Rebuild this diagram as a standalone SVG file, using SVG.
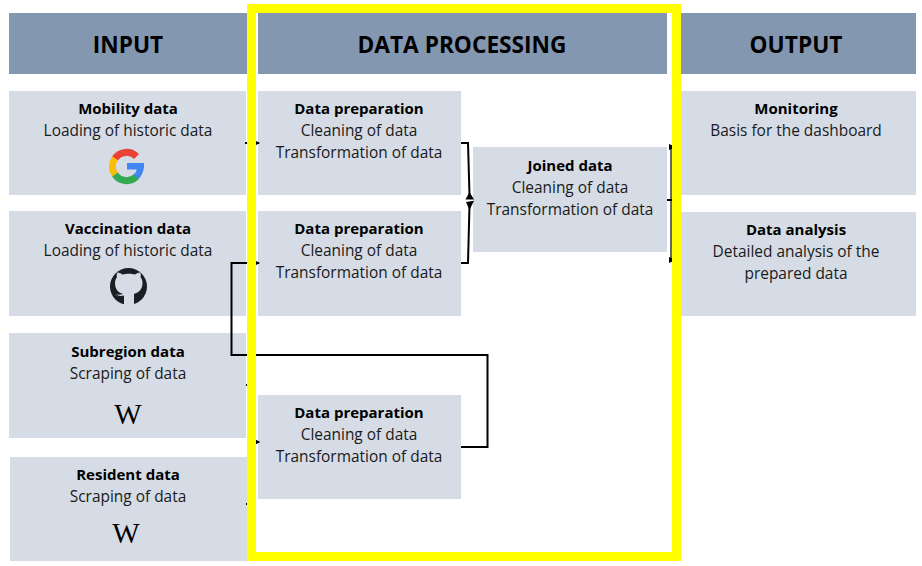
<svg xmlns="http://www.w3.org/2000/svg" width="922" height="566" viewBox="0 0 922 566">
<style>
text{font-family:"Open Sans","Noto Sans","Liberation Sans",sans-serif;font-size:15.450px;fill:#1a1a1a;text-anchor:middle}
.t{font-weight:700;font-size:15px;fill:#000}
.h{font-weight:700;font-size:22.700px;fill:#000}
.hb{fill:#8497b0}
.b{fill:#d6dce5}
.c{fill:none;stroke:#000;stroke-width:2}
.k{fill:#000}
.w{font-family:"Liberation Serif",serif;font-size:29px;fill:#000}
.g{fill:none;stroke-width:7}
</style>
<defs><marker id="a" markerWidth="7" markerHeight="8" refX="6" refY="4" orient="auto" markerUnits="userSpaceOnUse"><path d="M0 0.500L7 4L0 7.500Z" fill="#000"/></marker></defs>
<rect width="922" height="566" fill="#fff"/>
<g id="header-input"><rect class="hb" x="9" y="13" width="238" height="61"/><text class="h" x="128" y="53">INPUT</text></g>
<g id="header-processing"><rect class="hb" x="258" y="13" width="409" height="61"/><text class="h" x="462" y="53">DATA PROCESSING</text></g>
<g id="header-output"><rect class="hb" x="681" y="13" width="235" height="61"/><text class="h" x="796" y="53">OUTPUT</text></g>
<g id="mobility"><rect class="b" x="9" y="91" width="237" height="104"/><text class="t" x="128" y="114">Mobility data</text><text x="128" y="136">Loading of historic data</text>
<g id="google-logo"><path class="g" stroke="#ea4335" d="M136.500 156.500A14 14 0 0 0 115 158.500"/><path class="g" stroke="#fbbc05" d="M115 158.500A14 14 0 0 0 115 174.500"/><path class="g" stroke="#34a853" d="M115 174.500A14 14 0 0 0 136.500 176.500"/><path fill="#4285f4" d="M127 163H144C144.500 169 142.500 175 138.500 179L133.500 174.500C135 173.500 136.300 171.500 136.800 169.500H127Z"/></g></g>
<g id="vaccination"><rect class="b" x="9" y="211" width="237" height="105"/><text class="t" x="128" y="234">Vaccination data</text><text x="128" y="256">Loading of historic data</text>
<g id="github-logo"><circle cx="128.500" cy="286.500" r="18.500" fill="#1b1f23"/><path class="b" d="M124 305.500V297.500C120 298 117 297 115.500 294C118 295 120.500 295 123 294C118 292.500 115 289 115 283C115 280 116 278.500 117 277C116.500 275.500 116.500 274 117.500 272.500C119.500 272.500 121 273.500 122.500 274.500C126 273.500 131.500 273.500 135 274.500C136.500 273.500 138 272.500 140 272.500C141 274 141 275.500 140.500 277C141.500 278.500 142.500 280 142.500 283C142.500 289 139 292.500 134 294C134 295 134 296 134 297V305.500Z"/><path d="M115 292.500C117.500 296 120 296.500 124 295.500V298C119.500 299 116 297 115 292.500Z" fill="#1b1f23"/></g></g>
<g id="subregion"><rect class="b" x="9" y="333" width="237" height="105"/><text class="t" x="128" y="357">Subregion data</text><text x="128" y="379">Scraping of data</text><text class="w" x="128" y="424">W</text></g>
<g id="resident"><rect class="b" x="10" y="457" width="237" height="104"/><text class="t" x="128" y="480">Resident data</text><text x="128" y="502">Scraping of data</text><text class="w" x="126" y="543">W</text></g>
<g id="prep1"><rect class="b" x="258" y="91" width="203" height="104"/><text class="t" x="359" y="114">Data preparation</text><text x="359" y="136">Cleaning of data</text><text x="359" y="158">Transformation of data</text></g>
<g id="prep2"><rect class="b" x="258" y="211" width="203" height="105"/><text class="t" x="359" y="234">Data preparation</text><text x="359" y="256">Cleaning of data</text><text x="359" y="278">Transformation of data</text></g>
<g id="prep3"><rect class="b" x="258" y="395" width="203" height="104"/><text class="t" x="359" y="418">Data preparation</text><text x="359" y="440">Cleaning of data</text><text x="359" y="462">Transformation of data</text></g>
<g id="joined"><rect class="b" x="473" y="147" width="194" height="105"/><text class="t" x="570" y="171">Joined data</text><text x="570" y="193">Cleaning of data</text><text x="570" y="215">Transformation of data</text></g>
<g id="monitoring"><rect class="b" x="681" y="91" width="235" height="104"/><text class="t" x="796" y="114">Monitoring</text><text x="796" y="136">Basis for the dashboard</text></g>
<g id="analysis"><rect class="b" x="681" y="212" width="235" height="104"/><text class="t" x="796" y="235">Data analysis</text><text x="796" y="257">Detailed analysis of the</text><text x="796" y="279">prepared data</text></g>
<g id="connectors">
<path class="c" marker-end="url(#a)" d="M245 143H259"/>
<path class="c" marker-end="url(#a)" d="M461 447H487.500V355H231.500V263H259"/>
<path class="c" marker-end="url(#a)" d="M246 385H252V442H259"/>
<path class="c" marker-end="url(#a)" d="M246 504H252V442H259"/>
<path class="c" d="M461 143H468L469.500 195"/>
<path class="c" d="M461 263H468L469.500 205"/>
<path class="k" d="M469.500 192L465.500 199.500L474 199.500Z"/>
<path class="k" d="M466 202L474 200.800L469.500 210Z"/>
<path class="c" d="M667 200H672"/>
<path d="M671 147V260" fill="none" stroke="#000" stroke-width="1.200"/>
<path class="k" d="M669 144L676 147L669 150Z"/>
<path class="k" d="M669 257L676 260L669 263Z"/>
</g>
<rect id="frame" x="251.500" y="8.500" width="425" height="548" fill="none" stroke="#ff0" stroke-width="9"/>
</svg>
